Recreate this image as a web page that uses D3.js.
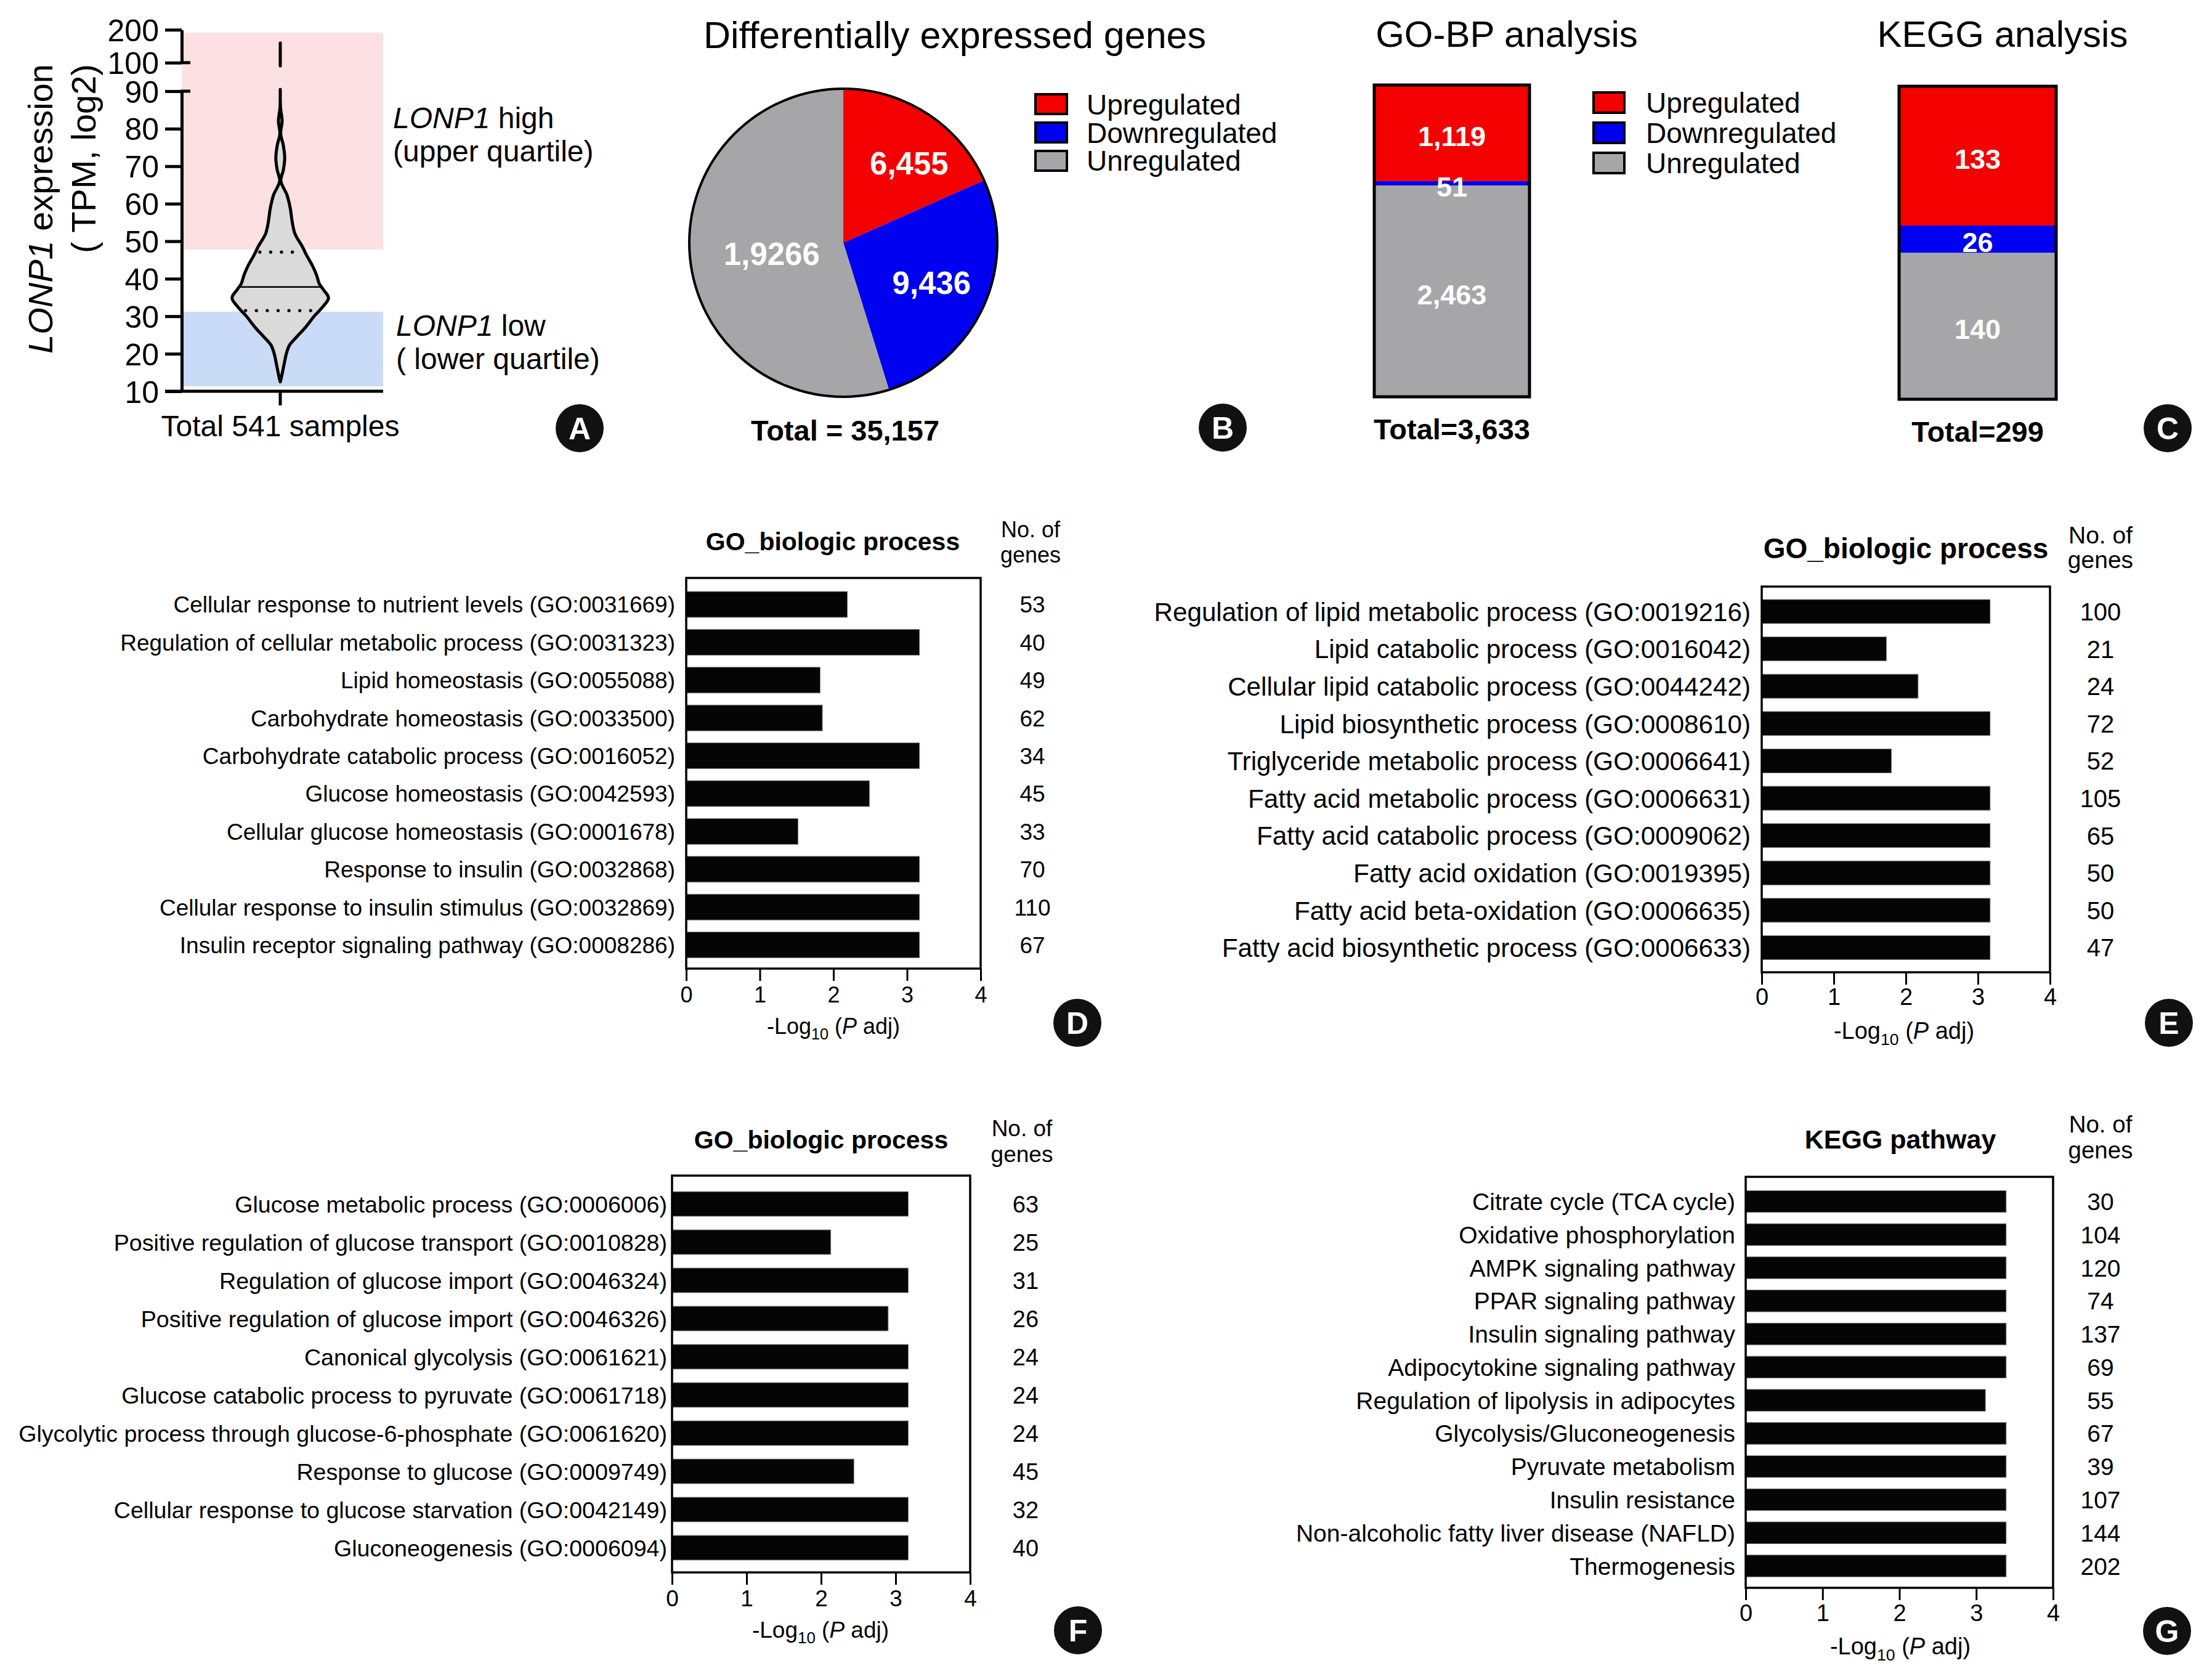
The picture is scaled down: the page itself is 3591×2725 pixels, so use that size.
<!DOCTYPE html>
<html><head><meta charset="utf-8">
<script src="https://cdn.jsdelivr.net/npm/d3@7"></script>
<style>
body{margin:0;background:#fff}
svg{display:block}
text{font-family:"Liberation Sans",Arial,Helvetica,sans-serif;fill:#000}
</style></head>
<body><svg id="fig" width="3591" height="2725"></svg>
<script>
// ---------------- DATA ----------------
// Panel A: violin (value on TPM axis, relative density)
const violinValues  = [12.5,13.6,16.8,20.1,22.3,24.5,27.2,30.0,32.7,34.9,37.1,38.7,40.9,43.1,46.4,48.6,51.9,54.6,59.0,62.3,66.1,69.0,72.1,75.5,78.7,82.1,85.5,90.5];
const violinDensity = [0,0.022,0.073,0.128,0.192,0.341,0.533,0.702,0.894,1.0,0.894,0.808,0.754,0.681,0.540,0.456,0.307,0.255,0.204,0.140,0.012,0.064,0.092,0.064,0.008,0.038,0.006,0];
const violinTopRange = [90, 160];
const violinMedian = 37.8, violinQ1 = 31.5, violinQ3 = 47.1;
const highBand = [47.8, 191];
const lowBand  = [11.3, 31.2];
const yTicksLower = [10,20,30,40,50,60,70,80,90];
const yTicksUpper = [100,200];
const sampleLabel = "Total 541 samples";

// Panel B: pie
const regCategories = ["Upregulated","Downregulated","Unregulated"];
const degValues = [6455, 9436, 19266];
const degLabels = ["6,455","9,436","1,9266"];
const degTotal = "Total = 35,157";

// Panel C: stacked bars
const goBpValues = [1119, 51, 2463];
const goBpLabels = ["1,119","51","2,463"];
const keggValues = [133, 26, 140];
const keggLabels = ["133","26","140"];

// Panel D
const dTerms = ["Cellular response to nutrient levels (GO:0031669)","Regulation of cellular metabolic process (GO:0031323)","Lipid homeostasis (GO:0055088)","Carbohydrate homeostasis (GO:0033500)","Carbohydrate catabolic process (GO:0016052)","Glucose homeostasis (GO:0042593)","Cellular glucose homeostasis (GO:0001678)","Response to insulin (GO:0032868)","Cellular response to insulin stimulus (GO:0032869)","Insulin receptor signaling pathway (GO:0008286)"];
const dValues = [2.19,3.17,1.82,1.85,3.17,2.49,1.52,3.17,3.17,3.17];
const dGenes  = [53,40,49,62,34,45,33,70,110,67];
// Panel E
const eTerms = ["Regulation of lipid metabolic process (GO:0019216)","Lipid catabolic process (GO:0016042)","Cellular lipid catabolic process (GO:0044242)","Lipid biosynthetic process (GO:0008610)","Triglyceride metabolic process (GO:0006641)","Fatty acid metabolic process (GO:0006631)","Fatty acid catabolic process (GO:0009062)","Fatty acid oxidation (GO:0019395)","Fatty acid beta-oxidation (GO:0006635)","Fatty acid biosynthetic process (GO:0006633)"];
const eValues = [3.17,1.73,2.17,3.17,1.80,3.17,3.17,3.17,3.17,3.17];
const eGenes  = [100,21,24,72,52,105,65,50,50,47];
// Panel F
const fTerms = ["Glucose metabolic process (GO:0006006)","Positive regulation of glucose transport (GO:0010828)","Regulation of glucose import (GO:0046324)","Positive regulation of glucose import (GO:0046326)","Canonical glycolysis (GO:0061621)","Glucose catabolic process to pyruvate (GO:0061718)","Glycolytic process through glucose-6-phosphate (GO:0061620)","Response to glucose (GO:0009749)","Cellular response to glucose starvation (GO:0042149)","Gluconeogenesis (GO:0006094)"];
const fValues = [3.17,2.13,3.17,2.90,3.17,3.17,3.17,2.44,3.17,3.17];
const fGenes  = [63,25,31,26,24,24,24,45,32,40];
// Panel G
const gTerms = ["Citrate cycle (TCA cycle)","Oxidative phosphorylation","AMPK signaling pathway","PPAR signaling pathway","Insulin signaling pathway","Adipocytokine signaling pathway","Regulation of lipolysis in adipocytes","Glycolysis/Gluconeogenesis","Pyruvate metabolism","Insulin resistance","Non-alcoholic fatty liver disease (NAFLD)","Thermogenesis"];
const gValues = [3.39,3.39,3.39,3.39,3.39,3.39,3.12,3.39,3.39,3.39,3.39,3.39];
const gGenes  = [30,104,120,74,137,69,55,67,39,107,144,202];
const xTicks = [0,1,2,3,4];

// ---------------- DRAWING ----------------
const svg = d3.select("#fig");
svg.append("rect").attr("width",3591).attr("height",2725).attr("fill","#fff");
const RED="#f40000", BLUE="#0000f0", GRAY="#a6a6a9";
const regColors=[RED,BLUE,GRAY];

function label(x,y,str,size,opts={}){
  const t=svg.append("text").attr("x",x).attr("y",y).attr("font-size",size)
    .attr("text-anchor",opts.anchor||"middle");
  if(opts.bold) t.attr("font-weight","bold");
  if(opts.fill) t.style("fill",opts.fill);
  t.text(str); return t;
}
function panelLetter(x,y,L){
  svg.append("circle").attr("cx",x).attr("cy",y).attr("r",39).attr("fill","#111");
  label(x,y+18,L,50,{bold:true,fill:"#fff"});
}

// ---- Panel A ----
(function(){
  const axX=295;
  const yLow=d3.scaleLinear().domain([10,90]).range([635,148]);
  const yUp=d3.scaleLinear().domain([100,200]).range([101.7,48.3]);
  const cx=455;
  svg.append("rect").attr("x",axX).attr("width",327).attr("y",yUp(highBand[1]))
     .attr("height",yLow(highBand[0])-yUp(highBand[1])).attr("fill","#fde0e1");
  svg.append("rect").attr("x",axX).attr("width",327).attr("y",yLow(lowBand[1]))
     .attr("height",yLow(lowBand[0])-yLow(lowBand[1])).attr("fill","#c9dbf7");
  const w=d3.scaleLinear().domain([0,1]).range([0,78.3]);
  const pts=violinValues.map((v,i)=>[v,violinDensity[i]]);
  const area=d3.area().curve(d3.curveCatmullRom.alpha(0.5))
     .y(d=>yLow(d[0])).x0(d=>cx-w(d[1])).x1(d=>cx+w(d[1]));
  svg.append("path").attr("d",area(pts)).attr("fill","#dadada").attr("stroke","#000")
     .attr("stroke-width",5).attr("stroke-linejoin","round");
  svg.append("line").attr("x1",cx).attr("x2",cx).attr("y1",yUp(violinTopRange[0])).attr("y2",yUp(violinTopRange[1]))
     .attr("stroke","#000").attr("stroke-width",5).attr("stroke-linecap","round");
  const interp=v=>{
    for(let i=0;i<violinValues.length-1;i++){
      if(v>=violinValues[i]&&v<=violinValues[i+1]){
        const t=(v-violinValues[i])/(violinValues[i+1]-violinValues[i]);
        return w(violinDensity[i]+t*(violinDensity[i+1]-violinDensity[i]));
      }} return 0;};
  const hm=interp(violinMedian);
  svg.append("line").attr("x1",cx-hm).attr("x2",cx+hm).attr("y1",yLow(violinMedian)).attr("y2",yLow(violinMedian))
     .attr("stroke","#000").attr("stroke-width",2.5);
  [violinQ1,violinQ3].forEach(q=>{
    const h=interp(q)-7;
    svg.append("line").attr("x1",cx-h).attr("x2",cx+h).attr("y1",yLow(q)).attr("y2",yLow(q))
      .attr("stroke","#000").attr("stroke-width",5.3).attr("stroke-linecap","round").attr("stroke-dasharray","0 17.6");
  });
  const axL=svg.append("g").attr("transform",`translate(${axX},0)`)
     .call(d3.axisLeft(yLow).tickValues(yTicksLower).tickSize(27).tickSizeOuter(0).tickPadding(10));
  const axU=svg.append("g").attr("transform",`translate(${axX},0)`)
     .call(d3.axisLeft(yUp).tickValues(yTicksUpper).tickSize(27).tickSizeOuter(0).tickPadding(10));
  [axL,axU].forEach(a=>{
    a.selectAll("path.domain").attr("stroke-width",5);
    a.selectAll(".tick line").attr("stroke-width",5);
    a.selectAll("text").attr("font-size",50).attr("font-family",null).attr("dy","0.36em");
  });
  [yLow(90),yUp(100)].forEach(y=>{
    svg.append("line").attr("x1",axX-2).attr("x2",axX+14).attr("y1",y).attr("y2",y).attr("stroke","#000").attr("stroke-width",5);
  });
  const xb=d3.scaleBand().domain([sampleLabel]).range([288,622]);
  const ax=svg.append("g").attr("transform","translate(0,635)")
     .call(d3.axisBottom(xb).tickSize(23).tickSizeOuter(0));
  ax.select("path.domain").remove();
  ax.selectAll(".tick line").attr("stroke-width",5);
  ax.selectAll("text").attr("font-size",48).attr("font-family",null).attr("y",73).attr("dy",null);
  svg.append("line").attr("x1",268).attr("x2",622).attr("y1",635).attr("y2",635).attr("stroke","#000").attr("stroke-width",5);
  const t1=svg.append("text").attr("transform","translate(85,104) rotate(-90)").attr("text-anchor","end").attr("font-size",56);
  t1.append("tspan").attr("font-style","italic").text("LONP1");
  t1.append("tspan").text(" expression");
  svg.append("text").attr("transform","translate(155,104) rotate(-90)").attr("text-anchor","end").attr("font-size",56).text("( TPM, log2)");
  const h1=svg.append("text").attr("x",638).attr("y",208).attr("font-size",48);
  h1.append("tspan").attr("font-style","italic").text("LONP1");
  h1.append("tspan").text(" high");
  label(638,262,"(upper quartile)",48,{anchor:"start"});
  const l1=svg.append("text").attr("x",643).attr("y",545).attr("font-size",48);
  l1.append("tspan").attr("font-style","italic").text("LONP1");
  l1.append("tspan").text(" low");
  label(643,599,"( lower quartile)",48,{anchor:"start"});
  panelLetter(941,695,"A");
})();

// ---- Panel B ----
(function(){
  const cx=1369, cy=394, r=250;
  label(1550,78,"Differentially expressed genes",61);
  const pie=d3.pie().sort(null).value(d=>d)(degValues);
  const arc=d3.arc().innerRadius(0).outerRadius(r);
  const g=svg.append("g").attr("transform",`translate(${cx},${cy})`);
  g.selectAll("path.s").data(pie).join("path").attr("class","s").attr("d",arc).attr("fill",(d,i)=>regColors[i]);
  g.append("circle").attr("r",r).attr("fill","none").attr("stroke","#000").attr("stroke-width",4);
  const lr=[0.67,0.63,0.47], af=[0.6,0.5,0.5];
  pie.forEach((d,i)=>{
    const a=d.startAngle+(d.endAngle-d.startAngle)*af[i];
    const x=Math.sin(a)*r*lr[i], y=-Math.cos(a)*r*lr[i];
    g.append("text").attr("x",x).attr("y",y).attr("dy","0.36em").attr("text-anchor","middle")
     .attr("font-size",51).attr("font-weight","bold").style("fill","#fff").text(degLabels[i]);
  });
  label(1372,715,degTotal,47,{bold:true});
  regCategories.forEach((c,i)=>{
    svg.append("rect").attr("x",1681).attr("y",153+i*46).attr("width",51).attr("height",32)
      .attr("fill",regColors[i]).attr("stroke","#000").attr("stroke-width",4);
    label(1764,186+i*45.5,c,46,{anchor:"start"});
  });
  panelLetter(1985,694,"B");
})();

// ---- Panel C ----
(function(){
  function stackBar(vals,labels,x0,x1,top,bottom,title,titleX,total,totalY){
    const sum=d3.sum(vals);
    const y=d3.scaleLinear().domain([0,sum]).range([bottom,top]);
    const order=[2,1,0];
    let acc=0;
    const segs=order.map(i=>{const s={i,y0:acc,y1:acc+vals[i]};acc+=vals[i];return s;});
    segs.forEach(s=>{
      svg.append("rect").attr("x",x0).attr("width",x1-x0).attr("y",y(s.y1)).attr("height",y(s.y0)-y(s.y1)).attr("fill",regColors[s.i]);
    });
    segs.forEach(s=>{
      const ym=(y(s.y0)+y(s.y1))/2+5;
      svg.append("text").attr("x",(x0+x1)/2).attr("y",ym).attr("dy","0.36em").attr("text-anchor","middle")
        .attr("font-size",45).attr("font-weight","bold").style("fill","#fff").text(labels[s.i]);
    });
    svg.append("rect").attr("x",x0).attr("width",x1-x0).attr("y",top).attr("height",bottom-top)
      .attr("fill","none").attr("stroke","#000").attr("stroke-width",5);
    label(titleX,76,title,60);
    label((x0+x1)/2,totalY,total,47,{bold:true});
  }
  stackBar(goBpValues,goBpLabels,2231,2483,138,644,"GO-BP analysis",2446,"Total=3,633",713);
  stackBar(keggValues,keggLabels,3083,3338,140,648,"KEGG analysis",3251,"Total=299",717);
  regCategories.forEach((c,i)=>{
    svg.append("rect").attr("x",2587).attr("y",150+i*49).attr("width",50).attr("height",33)
      .attr("fill",regColors[i]).attr("stroke","#000").attr("stroke-width",4);
    label(2672,183+i*49,c,46,{anchor:"start"});
  });
  panelLetter(3519,695,"C");
})();

// ---- Bar panels D-G ----
function barPanel(o){
  const x=d3.scaleLinear().domain([0,4]).range([o.bx0,o.bx1]);
  const y=d3.scaleBand().domain(o.terms).range(o.band).paddingInner(o.pad).paddingOuter(o.pad/2);
  svg.append("g").selectAll("rect").data(o.terms).join("rect")
    .attr("x",x(0)).attr("y",d=>y(d)).attr("height",y.bandwidth())
    .attr("width",(d,i)=>x(o.values[i])-x(0)).attr("fill","#050505").attr("stroke","#8a8a8a").attr("stroke-width",1);
  svg.append("rect").attr("x",o.bx0).attr("y",o.by0).attr("width",o.bx1-o.bx0).attr("height",o.by1-o.by0)
    .attr("fill","none").attr("stroke","#000").attr("stroke-width",3.5);
  o.terms.forEach((t,i)=>{
    svg.append("text").attr("x",o.labelX).attr("y",y(t)+y.bandwidth()/2).attr("dy","0.36em")
      .attr("text-anchor","end").attr("font-size",o.lf).text(t);
    svg.append("text").attr("x",o.numX).attr("y",y(t)+y.bandwidth()/2).attr("dy","0.36em")
      .attr("text-anchor","middle").attr("font-size",o.nf).text(o.genes[i]);
  });
  const ax=svg.append("g").attr("transform",`translate(0,${o.by1})`)
    .call(d3.axisBottom(x).tickValues(xTicks).tickSize(20).tickSizeOuter(0).tickFormat(d3.format("d")));
  ax.select("path.domain").remove();
  ax.selectAll(".tick line").attr("stroke-width",3);
  ax.selectAll("text").attr("font-size",o.tf).attr("font-family",null).attr("y",o.tickY-o.by1).attr("dy",null);
  label(o.titleX,o.titleY,o.title,o.titf,{bold:true});
  label(o.noX,o.noY[0],"No. of",o.nof);
  label(o.noX,o.noY[1],"genes",o.nof);
  const xt=svg.append("text").attr("x",o.axX).attr("y",o.axY).attr("text-anchor","middle").attr("font-size",o.tf);
  xt.append("tspan").text("-Log");
  xt.append("tspan").attr("font-size",o.tf*0.7).attr("dy",o.tf*0.25).text("10");
  xt.append("tspan").attr("dy",-o.tf*0.25).text(" (");
  xt.append("tspan").attr("font-style","italic").text("P");
  xt.append("tspan").text(" adj)");
  panelLetter(o.letterX,o.letterY,o.letter);
}
barPanel({terms:dTerms,values:dValues,genes:dGenes,bx0:1114,bx1:1592,by0:938,by1:1572,band:[950.3,1564.3],pad:0.316,
  labelX:1096,lf:37,numX:1676,nf:37,tf:36,tickY:1627,title:"GO_biologic process",titleX:1352,titleY:893,titf:41,
  noX:1673,noY:[872,913],nof:36,axX:1353,axY:1678,letter:"D",letterX:1749,letterY:1660});
barPanel({terms:eTerms,values:eValues,genes:eGenes,bx0:2860,bx1:3328,by0:952,by1:1578,band:[962.2,1568.3],pad:0.356,
  labelX:2842,lf:42.2,numX:3410,nf:40,tf:38,tickY:1631,title:"GO_biologic process",titleX:3094,titleY:906,titf:46,
  noX:3410,noY:[882,922],nof:39,axX:3091,axY:1686,letter:"E",letterX:3521,letterY:1660});
barPanel({terms:fTerms,values:fValues,genes:fGenes,bx0:1091,bx1:1575,by0:1908,by1:2552,band:[1923,2543],pad:0.355,
  labelX:1083,lf:37.6,numX:1665,nf:38,tf:37,tickY:2607,title:"GO_biologic process",titleX:1333,titleY:1864,titf:41,
  noX:1659,noY:[1844,1886],nof:37,axX:1332,axY:2658,letter:"F",letterX:1750,letterY:2646});
barPanel({terms:gTerms,values:gValues,genes:gGenes,bx0:2834,bx1:3333,by0:1910,by1:2577,band:[1923.1,2568.4],pad:0.34,
  labelX:2817,lf:39,numX:3410,nf:39,tf:38,tickY:2631,title:"KEGG pathway",titleX:3085,titleY:1864,titf:43,
  noX:3410,noY:[1838,1880],nof:38.5,axX:3085,axY:2685,letter:"G",letterX:3518,letterY:2647});
</script></body></html>
